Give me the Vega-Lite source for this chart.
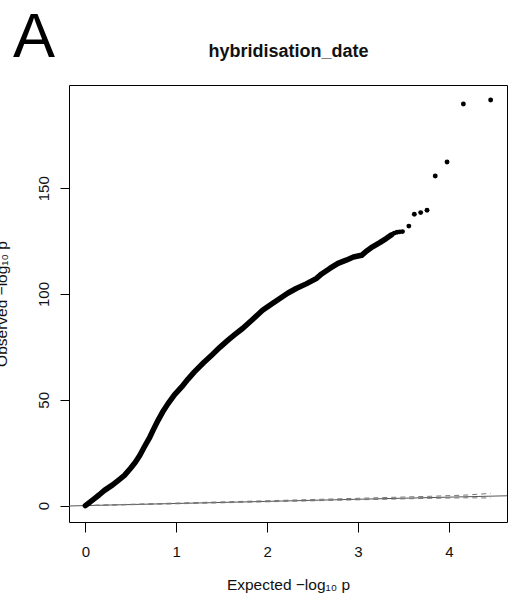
{
  "$schema": "https://vega.github.io/schema/vega-lite/v6.json",
  "autosize": "none",
  "width": 438,
  "height": 437,
  "padding": {"left": 69, "top": 85, "right": 1, "bottom": 74},
  "title": {"text": "A", "anchor": "start", "frame": "group", "orient": "top", "fontSize": 63, "fontWeight": "normal", "font": "Liberation Sans", "color": "#000", "baseline": "alphabetic", "dx": -56, "dy": 78, "offset": 0},
  "config": {
    "view": {"stroke": "#000", "strokeWidth": 1},
    "axis": {"grid": false, "domain": false, "tickColor": "#000", "tickWidth": 1, "labelFont": "Liberation Sans", "titleFont": "Liberation Sans", "labelColor": "#111", "titleColor": "#111", "labelFontSize": 15, "titleFontSize": 15.5, "titleFontWeight": "normal"}
  },
  "datasets": {
    "diag": [{"x": -0.18, "y": -0.18}, {"x": 4.64, "y": 4.64}],
    "band": [
      {"band": "upper", "x": 0, "y": 0.05}, {"band": "upper", "x": 1, "y": 1.2}, {"band": "upper", "x": 2, "y": 2.3}, {"band": "upper", "x": 3, "y": 3.45}, {"band": "upper", "x": 3.8, "y": 4.4}, {"band": "upper", "x": 4.2, "y": 5.0}, {"band": "upper", "x": 4.46, "y": 5.8},
      {"band": "lower", "x": 0, "y": 0}, {"band": "lower", "x": 1, "y": 0.85}, {"band": "lower", "x": 2, "y": 1.8}, {"band": "lower", "x": 3, "y": 2.75}, {"band": "lower", "x": 3.8, "y": 3.45}, {"band": "lower", "x": 4.2, "y": 3.7}, {"band": "lower", "x": 4.46, "y": 3.6}
    ],
    "curve": [
      {"x": 0, "y": 0}, {"x": 0.05, "y": 1.6}, {"x": 0.1, "y": 3.3}, {"x": 0.15, "y": 5.0}, {"x": 0.21, "y": 7.2}, {"x": 0.3, "y": 9.8}, {"x": 0.37, "y": 12.2}, {"x": 0.43, "y": 14.3}, {"x": 0.5, "y": 17.8}, {"x": 0.55, "y": 20.5}, {"x": 0.6, "y": 23.8}, {"x": 0.65, "y": 27.8}, {"x": 0.71, "y": 32.4}, {"x": 0.75, "y": 36}, {"x": 0.8, "y": 40.3}, {"x": 0.85, "y": 44.2}, {"x": 0.91, "y": 48.2}, {"x": 0.98, "y": 52.3}, {"x": 1.06, "y": 56.1}, {"x": 1.13, "y": 59.8}, {"x": 1.2, "y": 63.2}, {"x": 1.3, "y": 67.5}, {"x": 1.39, "y": 71.1}, {"x": 1.48, "y": 74.8}, {"x": 1.57, "y": 78.2}, {"x": 1.65, "y": 81}, {"x": 1.73, "y": 83.7}, {"x": 1.84, "y": 88}, {"x": 1.95, "y": 92.3}, {"x": 2.05, "y": 95.3}, {"x": 2.14, "y": 97.9}, {"x": 2.23, "y": 100.5}, {"x": 2.32, "y": 102.6}, {"x": 2.43, "y": 104.8}, {"x": 2.54, "y": 107.3}, {"x": 2.6, "y": 109.5}, {"x": 2.69, "y": 112.1}, {"x": 2.78, "y": 114.5}, {"x": 2.87, "y": 116}, {"x": 2.95, "y": 117.5}, {"x": 3.04, "y": 118.3}, {"x": 3.1, "y": 120.5}, {"x": 3.16, "y": 122.3}, {"x": 3.24, "y": 124.3}, {"x": 3.31, "y": 126.2}, {"x": 3.37, "y": 128.0}
    ],
    "tail": [
      {"x": 3.40, "y": 128.8}, {"x": 3.43, "y": 129.2}, {"x": 3.46, "y": 129.4}, {"x": 3.49, "y": 129.5}, {"x": 3.56, "y": 132.1}, {"x": 3.62, "y": 137.7}, {"x": 3.69, "y": 138.5}, {"x": 3.76, "y": 139.6}, {"x": 3.85, "y": 155.8}, {"x": 3.98, "y": 162.4}, {"x": 4.16, "y": 189.8}, {"x": 4.46, "y": 191.7}
    ]
  },
  "layer": [
    {
      "data": {"name": "diag"},
      "mark": {"type": "line", "color": "#555", "strokeWidth": 1, "clip": true},
      "encoding": {
        "x": {"field": "x", "type": "quantitative", "scale": {"domain": [-0.18, 4.64], "nice": false, "zero": false},
          "axis": {"orient": "top", "title": "hybridisation_date", "ticks": false, "labels": false, "domain": false, "titleFontSize": 18, "titleFontWeight": "bold", "titleColor": "#111", "titlePadding": 29, "titleBaseline": "alphabetic"}},
        "y": {"field": "y", "type": "quantitative", "scale": {"domain": [-7.75, 198.8], "nice": false, "zero": false},
          "axis": {"values": [0, 50, 100, 150], "tickSize": 9, "labelAngle": -90, "labelAlign": "center", "labelBaseline": "alphabetic", "labelPadding": 12, "title": "Observed  −log₁₀ p", "titlePadding": 30, "titleBaseline": "alphabetic"}}
      }
    },
    {
      "data": {"name": "band"},
      "mark": {"type": "line", "color": "#777", "strokeWidth": 1, "strokeDash": [5, 4], "clip": true},
      "encoding": {
        "x": {"field": "x", "type": "quantitative", "scale": {"domain": [-0.18, 4.64], "nice": false, "zero": false}, "axis": null},
        "y": {"field": "y", "type": "quantitative"},
        "detail": {"field": "band"}
      }
    },
    {
      "data": {"name": "curve"},
      "mark": {"type": "line", "color": "#000", "strokeWidth": 5.5, "strokeCap": "round", "strokeJoin": "round"},
      "encoding": {
        "x": {"field": "x", "type": "quantitative", "scale": {"domain": [-0.18, 4.64], "nice": false, "zero": false}, "axis": null},
        "y": {"field": "y", "type": "quantitative"}
      }
    },
    {
      "data": {"name": "tail"},
      "mark": {"type": "point", "filled": true, "color": "#000", "opacity": 1, "size": 24},
      "encoding": {
        "x": {"field": "x", "type": "quantitative", "scale": {"domain": [-0.18, 4.64], "nice": false, "zero": false},
          "axis": {"orient": "bottom", "values": [0, 1, 2, 3, 4], "tickSize": 10, "labelPadding": 12, "labelAngle": 0, "title": "Expected  −log₁₀ p", "titlePadding": 30, "titleBaseline": "alphabetic"}},
        "y": {"field": "y", "type": "quantitative"}
      }
    }
  ],
  "resolve": {"axis": {"x": "independent"}}
}
